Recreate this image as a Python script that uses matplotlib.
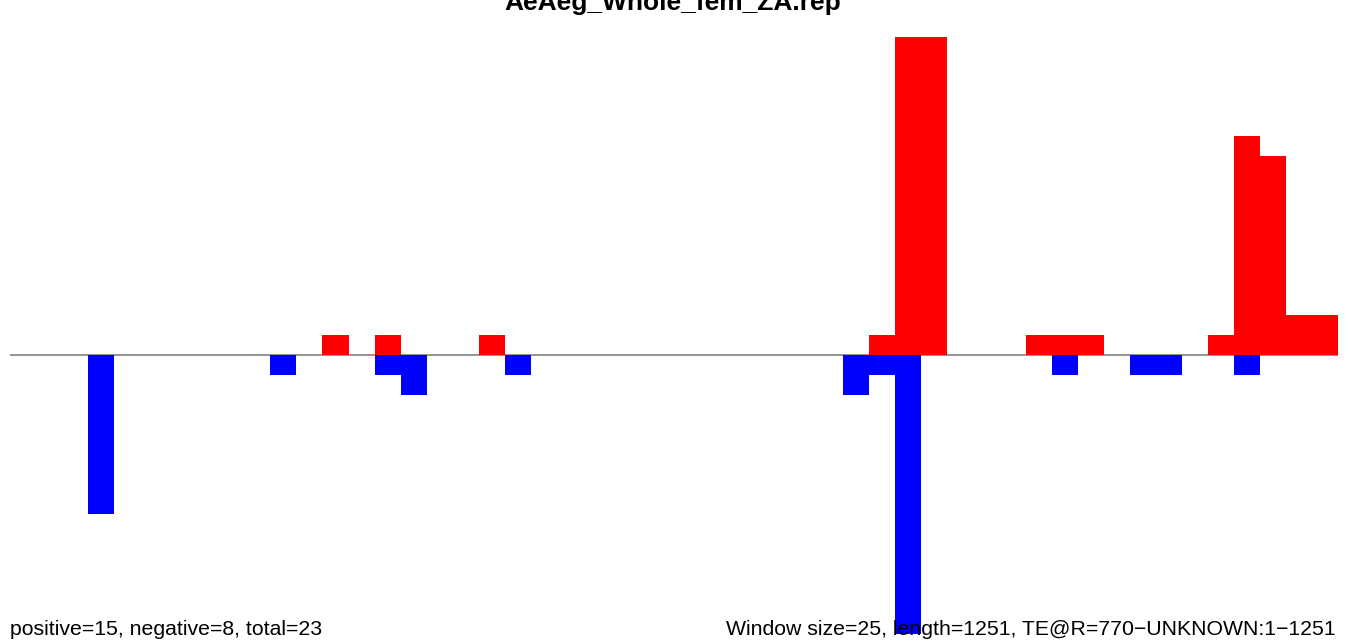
import matplotlib
matplotlib.use('Agg')
import matplotlib.pyplot as plt
import numpy as np

TITLE = 'AeAeg_Whole_fem_ZA.rep'
WINDOW = 25
LENGTH = 1251
LEFT_NOTE = 'positive=15, negative=8, total=23'
RIGHT_NOTE = 'Window size=25, length=1251, TE@R=770\u2212UNKNOWN:1\u22121251'

# read counts per 25 bp window (51 windows)
positive = [0, 0, 0, 0, 0, 0, 0, 0, 0, 0,
            0, 0, 1, 0, 1, 0, 0, 0, 1, 0,
            0, 0, 0, 0, 0, 0, 0, 0, 0, 0,
            0, 0, 0, 1, 16, 16, 0, 0, 0, 1,
            1, 1, 0, 0, 0, 0, 1, 11, 10, 2,
            2]
negative = [0, 0, 0, 8, 0, 0, 0, 0, 0, 0,
            1, 0, 0, 0, 1, 2, 0, 0, 0, 1,
            0, 0, 0, 0, 0, 0, 0, 0, 0, 0,
            0, 0, 2, 1, 14, 0, 0, 0, 0, 0,
            1, 0, 0, 1, 1, 0, 0, 1, 0, 0,
            0]


def draw_plot():
    plt.rcParams['font.family'] = ['Liberation Sans', 'DejaVu Sans']
    fig = plt.figure(figsize=(13.5, 6.43), dpi=100)
    # axes top sits at pixel ~37, runs past the bottom edge like the original
    top_px, half_px = 36.7, 318.3
    ax = fig.add_axes([10 / 1350, (643 - top_px - 2 * half_px) / 643, 1328 / 1350, 2 * half_px / 643])

    starts = np.arange(len(positive)) * WINDOW
    ax.bar(starts, positive, width=WINDOW, align='edge', color='#ff0000', linewidth=0, zorder=3)
    ax.bar(starts, -np.array(negative), width=WINDOW, align='edge', color='#0000ff', linewidth=0, zorder=3)
    ax.axhline(0, color='#808080', linewidth=1.2, zorder=1)

    ax.set_xlim(0, len(positive) * WINDOW)
    ax.set_ylim(-16, 16)
    ax.axis('off')

    fig.text(673 / 1350, 1 - 10 / 643, TITLE, ha='center', va='baseline',
             fontsize=19, fontweight='bold')
    fig.text(10 / 1350, 1 - 635 / 643, LEFT_NOTE, ha='left', va='baseline', fontsize=15.3, zorder=10)
    fig.text(1336 / 1350, 1 - 635 / 643, RIGHT_NOTE, ha='right', va='baseline', fontsize=15.3, zorder=10)

    fig.savefig('out.png', dpi=100)


if __name__ == '__main__':
    draw_plot()
